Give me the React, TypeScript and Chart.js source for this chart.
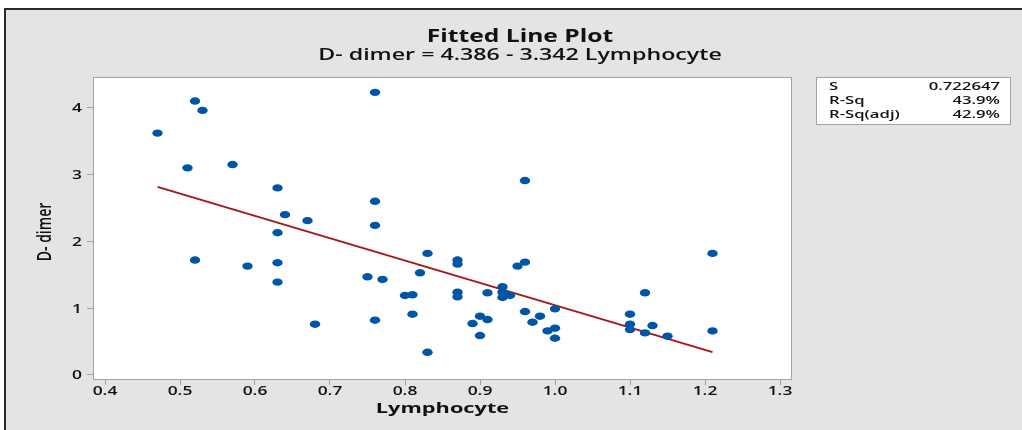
import React, { useEffect, useRef } from "react";
import { Chart, registerables } from "chart.js";

Chart.register(...registerables);

// ---- data ----
const lymphocyte = [
  0.47, 0.51, 0.52, 0.53, 0.52, 0.57, 0.59, 0.63, 0.63, 0.63,
  0.63, 0.64, 0.67, 0.68, 0.75, 0.76, 0.76, 0.76, 0.76, 0.77,
  0.80, 0.81, 0.81, 0.82, 0.83, 0.83, 0.87, 0.87, 0.87, 0.87,
  0.89, 0.90, 0.90, 0.91, 0.91, 0.93, 0.93, 0.93, 0.94, 0.95,
  0.96, 0.96, 0.96, 0.97, 0.98, 0.99, 1.00, 1.00, 1.00, 1.10,
  1.10, 1.10, 1.12, 1.12, 1.13, 1.15, 1.21, 1.21,
];
const dDimer = [
  3.62, 3.10, 4.10, 3.96, 1.72, 3.15, 1.63, 2.80, 2.13, 1.68,
  1.39, 2.40, 2.31, 0.76, 1.47, 4.23, 2.60, 2.24, 0.82, 1.43,
  1.19, 1.20, 0.91, 1.53, 1.82, 0.34, 1.72, 1.66, 1.24, 1.17,
  0.77, 0.88, 0.59, 1.23, 0.83, 1.32, 1.24, 1.16, 1.19, 1.63,
  1.69, 2.91, 0.95, 0.79, 0.88, 0.66, 0.99, 0.70, 0.55, 0.91,
  0.76, 0.68, 1.23, 0.63, 0.74, 0.58, 1.82, 0.66,
];
const fitIntercept = 4.386;
const fitSlope = -3.342;
const xTicks = [0.4, 0.5, 0.6, 0.7, 0.8, 0.9, 1.0, 1.1, 1.2, 1.3];
const yTicks = [0, 1, 2, 3, 4];
const titleText = "Fitted Line Plot";
const subtitleText = "D- dimer = 4.386 - 3.342 Lymphocyte";
const xTitleText = "Lymphocyte";
const yTitleText = "D- dimer";
const statLabels = ["S", "R-Sq", "R-Sq(adj)"];
const statValues = ["0.722647", "43.9%", "42.9%"];

// ---- styling ----
const W = 1022;
const H = 430;
const SX = 1.45; // horizontal stretch of the original picture
const FONT = '"Open Sans", "DejaVu Sans", sans-serif';
const TEXT = "#111111";
const DOT = "#0055a5";
const DOT_RX = 5.2;
const DOT_RY = 3.7;
const LINE = "#a31818";
const FRAME_GRAY = "#a3a3a3";

function drawText(
  ctx: CanvasRenderingContext2D,
  text: string,
  x: number,
  y: number,
  font: string,
  align: CanvasTextAlign,
  sx = SX
) {
  ctx.save();
  ctx.translate(x, y);
  ctx.scale(sx, 1);
  ctx.font = font;
  ctx.fillStyle = TEXT;
  ctx.textAlign = align;
  ctx.textBaseline = "middle";
  ctx.fillText(text, 0, 0);
  ctx.restore();
}

const decorPlugin = {
  id: "decor",
  afterUpdate(chart: any) {
    // points are drawn as slightly wide ellipses, like the reference
    const meta = chart.getDatasetMeta(0);
    meta.data.forEach((el: any) => {
      el.draw = function (ctx: CanvasRenderingContext2D) {
        ctx.save();
        ctx.fillStyle = DOT;
        ctx.beginPath();
        ctx.ellipse(this.x, this.y, DOT_RX, DOT_RY, 0, 0, Math.PI * 2);
        ctx.fill();
        ctx.restore();
      };
    });
  },
  beforeDatasetsDraw(chart: any) {
    const { ctx, chartArea: a } = chart;
    ctx.save();
    ctx.fillStyle = "#ffffff";
    ctx.fillRect(a.left, a.top, a.right - a.left, a.bottom - a.top);
    ctx.restore();
  },
  afterDraw(chart: any) {
    const { ctx, chartArea: a } = chart;
    const xs = chart.scales.x;
    const ys = chart.scales.y;
    // plot border
    ctx.save();
    ctx.strokeStyle = FRAME_GRAY;
    ctx.lineWidth = 1;
    ctx.strokeRect(a.left + 0.5, a.top + 0.5, a.right - a.left - 1, a.bottom - a.top);
    ctx.restore();

    // titles
    const cx = 520;
    drawText(ctx, titleText, cx, 37, `bold 17px ${FONT}`, "center");
    drawText(ctx, subtitleText, cx, 55, `600 16px ${FONT}`, "center");

    // tick labels
    for (const v of xTicks) {
      drawText(ctx, v.toFixed(1), xs.getPixelForValue(v), 392, `600 12px ${FONT}`, "center");
    }
    for (const v of yTicks) {
      drawText(ctx, String(v), a.left - 11, ys.getPixelForValue(v) + 1, `600 12px ${FONT}`, "right");
    }

    // axis titles
    drawText(ctx, xTitleText, (a.left + a.right) / 2, 409, `bold 15px ${FONT}`, "center");
    ctx.save();
    ctx.translate(45, (a.top + a.bottom) / 2 + 4);
    ctx.rotate(-Math.PI / 2);
    ctx.scale(1, SX);
    ctx.font = `600 14px ${FONT}`;
    ctx.fillStyle = TEXT;
    ctx.textAlign = "center";
    ctx.textBaseline = "middle";
    ctx.fillText(yTitleText, 0, 0);
    ctx.restore();

    // statistics box
    const bx = 816, by = 77, bw = 195, bh = 48;
    ctx.save();
    ctx.fillStyle = "#ffffff";
    ctx.fillRect(bx, by, bw, bh);
    ctx.strokeStyle = FRAME_GRAY;
    ctx.lineWidth = 1;
    ctx.strokeRect(bx + 0.5, by + 0.5, bw - 1, bh - 1);
    ctx.restore();
    statLabels.forEach((lab, i) => {
      const y = by + 10 + i * 14;
      drawText(ctx, lab, bx + 13, y, `600 11.5px ${FONT}`, "left");
      drawText(ctx, statValues[i], bx + bw - 11, y, `600 11.5px ${FONT}`, "right");
    });
  },
};

export default function App() {
  const ref = useRef<HTMLCanvasElement | null>(null);

  useEffect(() => {
    const canvas = ref.current;
    if (!canvas) return;

    const points = lymphocyte.map((x, i) => ({ x, y: dDimer[i] }));
    const xMin = Math.min(...lymphocyte);
    const xMax = Math.max(...lymphocyte);
    const fit = [xMin, xMax].map((x) => ({ x, y: fitIntercept + fitSlope * x }));

    const chart = new Chart(canvas, {
      type: "scatter",
      data: {
        datasets: [
          {
            data: points,
            pointRadius: 5,
            backgroundColor: DOT,
            borderColor: DOT,
            borderWidth: 0,
          },
          {
            type: "line",
            data: fit,
            borderColor: LINE,
            borderWidth: 2,
            pointRadius: 0,
            showLine: true,
            fill: false,
          } as any,
        ],
      },
      plugins: [decorPlugin],
      options: {
        responsive: false,
        animation: false,
        devicePixelRatio: 1,
        layout: { padding: { left: 0, top: 77, right: 230, bottom: 11 } },
        plugins: {
          legend: { display: false },
          tooltip: { enabled: false },
          title: { display: false },
        },
        scales: {
          x: {
            type: "linear",
            min: 0.384,
            max: 1.316,
            afterBuildTicks: (s: any) => {
              s.ticks = xTicks.map((value) => ({ value }));
            },
            afterFit: (s: any) => {
              s.height = 40;
            },
            ticks: { display: false },
            grid: {
              drawOnChartArea: false,
              drawTicks: true,
              tickLength: 6,
              color: FRAME_GRAY,
            },
            border: { display: false },
          },
          y: {
            type: "linear",
            min: -0.06,
            max: 4.46,
            afterBuildTicks: (s: any) => {
              s.ticks = yTicks.map((value) => ({ value }));
            },
            afterFit: (s: any) => {
              s.width = 93;
            },
            ticks: { display: false },
            grid: {
              drawOnChartArea: false,
              drawTicks: true,
              tickLength: 6,
              color: FRAME_GRAY,
            },
            border: { display: false },
          },
        },
      } as any,
    });
    return () => chart.destroy();
  }, []);

  return (
    <div
      style={{
        position: "fixed",
        left: 0,
        top: 0,
        width: W,
        height: H,
        background: "#ffffff",
        overflow: "hidden",
      }}
    >
      <div
        style={{
          position: "absolute",
          left: 4,
          top: 8,
          width: W,
          height: H,
          background: "#e4e4e4",
          borderLeft: "2px solid #2b2b2b",
          borderTop: "2px solid #2b2b2b",
        }}
      />
      <canvas
        ref={ref}
        width={W}
        height={H}
        style={{ position: "absolute", left: 0, top: 0, width: W, height: H }}
      />
    </div>
  );
}
